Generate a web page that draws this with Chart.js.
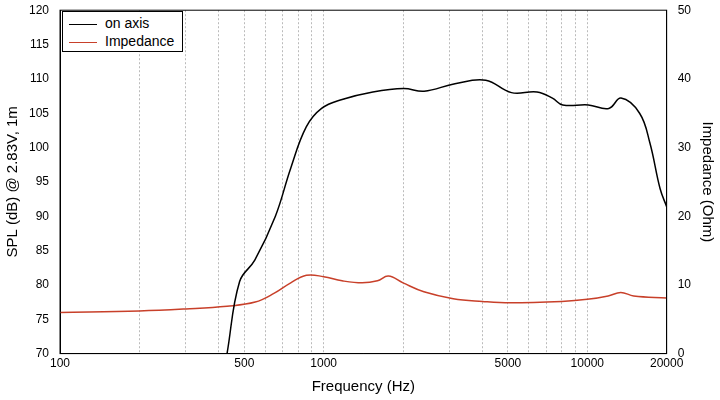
<!DOCTYPE html><html><head><meta charset="utf-8">
<script src="https://cdn.jsdelivr.net/npm/chart.js@4"></script>
<style>body{margin:0;background:#fff}#w{position:relative;width:720px;height:400px}
#lg{position:absolute;left:48px;top:6px;border:1px solid #000;background:#fff;font:14px "Liberation Sans",Arial,sans-serif;padding:2px 8px 1px 6px;line-height:18px}
#lg span{display:inline-block;width:28px;height:0;border-top:1.5px solid;vertical-align:middle;margin-right:8px}</style></head><body>
<div id="w"><canvas id="c" width="720" height="400"></canvas>
<div id="lg"><div><span style="border-color:#000"></span>on axis</div><div><span style="border-color:#c8402a"></span>Impedance</div></div></div>
<script>
const splFreq=[430,480,548,656,750,859,982,1175,1537,2011,2405,3147,4119,5155,6446,7375,8069,10090,12070,13430,15790,17270,18890,20000];
const splVals=[70,80.5,83.6,90,97,103,105.7,107,108.1,108.6,108.2,109.3,109.8,108,108.1,107.2,106.2,106.2,105.7,107.2,105,100.7,94,91.4];
const impFreq=[100,200,300,430,550,650,750,860,1000,1175,1400,1600,1760,2000,2400,3100,4000,5100,8000,10000,12000,13400,15000,20000];
const impVals=[6.0,6.2,6.5,6.9,7.5,8.8,10.3,11.4,11.2,10.6,10.3,10.6,11.3,10.3,9,8.0,7.6,7.4,7.6,7.9,8.4,8.9,8.4,8.1];
const xTicks=[100,200,300,400,500,600,700,800,900,1000,2000,3000,4000,5000,6000,7000,8000,9000,10000,20000];
const xLabels=[100,500,1000,5000,10000,20000];
const F='"Liberation Sans",Arial,sans-serif';
new Chart(document.getElementById('c'),{type:'line',
data:{datasets:[
{data:splFreq.map((f,i)=>({x:f,y:splVals[i]})),borderColor:'#000',borderWidth:1.5,pointRadius:0,tension:0.4,yAxisID:'y'},
{data:impFreq.map((f,i)=>({x:f,y:impVals[i]})),borderColor:'#c8402a',borderWidth:1.5,pointRadius:0,tension:0.4,yAxisID:'y2'}]},
options:{responsive:false,animation:false,layout:{padding:{top:0,right:0,left:0}},
plugins:{legend:{display:false},tooltip:{enabled:false}},
scales:{
x:{type:'logarithmic',min:100,max:20000,afterBuildTicks:a=>{a.ticks=xTicks.map(v=>({value:v}))},
 ticks:{autoSkip:false,maxRotation:0,color:'#000',font:{family:F,size:12},callback:v=>xLabels.includes(v)?String(v):''},
 grid:{color:'#bbb',drawTicks:false,tickLength:0},border:{color:'#000',dash:[2,2]},
 title:{display:true,text:'Frequency (Hz)',color:'#000',font:{family:F,size:15}}},
y:{min:70,max:120,ticks:{stepSize:5,color:'#000',font:{family:F,size:12}},grid:{display:false},border:{color:'#000'},
 title:{display:true,text:'SPL (dB) @ 2.83V, 1m',color:'#000',font:{family:F,size:15}}},
y2:{position:'right',min:0,max:50,ticks:{stepSize:10,color:'#000',font:{family:F,size:12}},grid:{display:false},border:{color:'#000'},
 title:{display:true,text:'Impedance (Ohm)',color:'#000',font:{family:F,size:15}}}}},
plugins:[{id:'box',afterDraw(ch){const a=ch.chartArea,c=ch.ctx;c.save();c.strokeStyle='#000';c.lineWidth=1;c.setLineDash([]);c.strokeRect(a.left,a.top,a.right-a.left,a.bottom-a.top);c.restore();
document.getElementById('lg').style.left=(a.left+2)+'px';document.getElementById('lg').style.top=(a.top+1)+'px';}}]
});
</script></body></html>
